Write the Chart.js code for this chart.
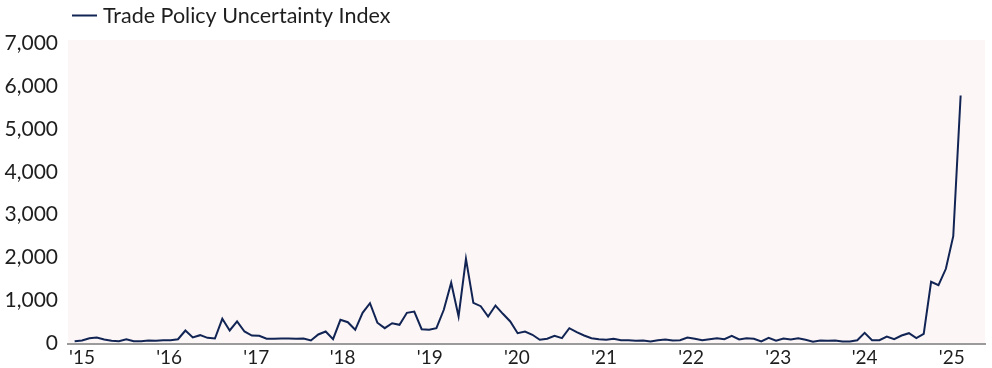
<!DOCTYPE html>
<html>
<head>
<meta charset="utf-8">
<script src="https://cdn.jsdelivr.net/npm/chart.js@4.4.1/dist/chart.umd.min.js"></script>
<style>
  html, body { margin: 0; padding: 0; background: #ffffff; }
  #wrap { width: 992px; height: 368px; position: relative; }
</style>
</head>
<body>
<div id="wrap"><canvas id="c" width="992" height="368"></canvas></div>
<script>
// Monthly index values, Jan 2015 onward
const seriesName = "Trade Policy Uncertainty Index";
const tpuValues = [
  54, 70, 124, 140, 93, 62, 54, 100, 54, 54, 70, 62,
  77, 77, 100, 303, 140, 194, 132, 117, 575, 303, 513, 280,
  186, 179, 110, 110, 117, 117, 110, 117, 70, 210, 280, 100,
  552, 496, 319, 715, 939, 485, 357, 473, 435, 715, 745, 333,
  319, 357, 785, 1414, 629, 1973, 948, 869, 629, 885, 692, 513,
  240, 280, 203, 86, 110, 179, 124, 357, 263, 186, 124, 100,
  86, 110, 77, 77, 63, 70, 47, 77, 93, 70, 77, 140,
  110, 77, 100, 124, 100, 179, 93, 124, 110, 47, 133, 63,
  117, 93, 124, 86, 40, 70, 63, 70, 47, 47, 77, 249,
  77, 77, 163, 100, 186, 240, 124, 226, 1438, 1358, 1740, 2500,
  5778
];
// Year tick labels and where they sit along the month axis (month index)
const yearLabels = ["'15", "'16", "'17", "'18", "'19", "'20", "'21", "'22", "'23", "'24", "'25"];
const yearTickIndex = [1.0, 12.8, 24.6, 36.3, 48.1, 59.9, 71.7, 83.5, 95.3, 107.0, 118.8];
const yTicks = [0, 1000, 2000, 3000, 4000, 5000, 6000, 7000];

const points = tpuValues.map((v, i) => ({ x: i, y: v }));
const FONT = "Lato, 'Open Sans', sans-serif";

const bgPlugin = {
  id: 'bg',
  beforeDraw(chart) {
    const { ctx, chartArea: a } = chart;
    ctx.save();
    ctx.fillStyle = '#fcf6f6';
    ctx.fillRect(a.left, a.top - 3, a.right - a.left, a.bottom - a.top + 3);
    ctx.restore();
  }
};
const legendPlugin = {
  id: 'customLegend',
  afterDraw(chart) {
    const { ctx } = chart;
    const ds = chart.data.datasets[0];
    ctx.save();
    ctx.strokeStyle = ds.borderColor;
    ctx.lineWidth = 2;
    ctx.beginPath();
    ctx.moveTo(72, 15.5);
    ctx.lineTo(97, 15.5);
    ctx.stroke();
    ctx.fillStyle = '#1e1e1e';
    ctx.font = "21.5px " + FONT;
    ctx.textBaseline = 'middle';
    ctx.textAlign = 'left';
    ctx.fillText(ds.label, 103, 16);
    ctx.restore();
  }
};

new Chart(document.getElementById('c'), {
  type: 'line',
  data: {
    datasets: [{
      label: seriesName,
      data: points,
      borderColor: '#112454',
      borderWidth: 2,
      pointRadius: 0,
      tension: 0,
      fill: false
    }]
  },
  options: {
    responsive: false,
    animation: false,
    layout: { padding: { top: 43, right: 7, left: 0, bottom: 0 } },
    plugins: { legend: { display: false }, tooltip: { enabled: false } },
    scales: {
      x: {
        type: 'linear',
        min: -0.9,
        max: 123.3,
        grid: { display: false, drawTicks: false },
        border: { display: true, color: '#9b9b9b', width: 2 },
        afterBuildTicks(scale) { scale.ticks = yearTickIndex.map(v => ({ value: v })); },
        afterFit(scale) { scale.height = 24.5; },
        ticks: {
          autoSkip: false,
          maxRotation: 0,
          padding: 3,
          color: '#1e1e1e',
          font: { family: FONT, size: 19 },
          callback(value) {
            const k = yearTickIndex.indexOf(value);
            return k >= 0 ? yearLabels[k] : '';
          }
        }
      },
      y: {
        min: 0,
        max: 7000,
        grid: { display: false, drawTicks: false },
        border: { display: false },
        afterBuildTicks(scale) { scale.ticks = yTicks.map(v => ({ value: v })); },
        afterFit(scale) { scale.width = 68; },
        ticks: {
          padding: 10,
          color: '#1e1e1e',
          font: { family: FONT, size: 21 },
          callback(value) { return value.toLocaleString('en-US'); }
        }
      }
    }
  },
  plugins: [bgPlugin, legendPlugin]
});
</script>
</body>
</html>
